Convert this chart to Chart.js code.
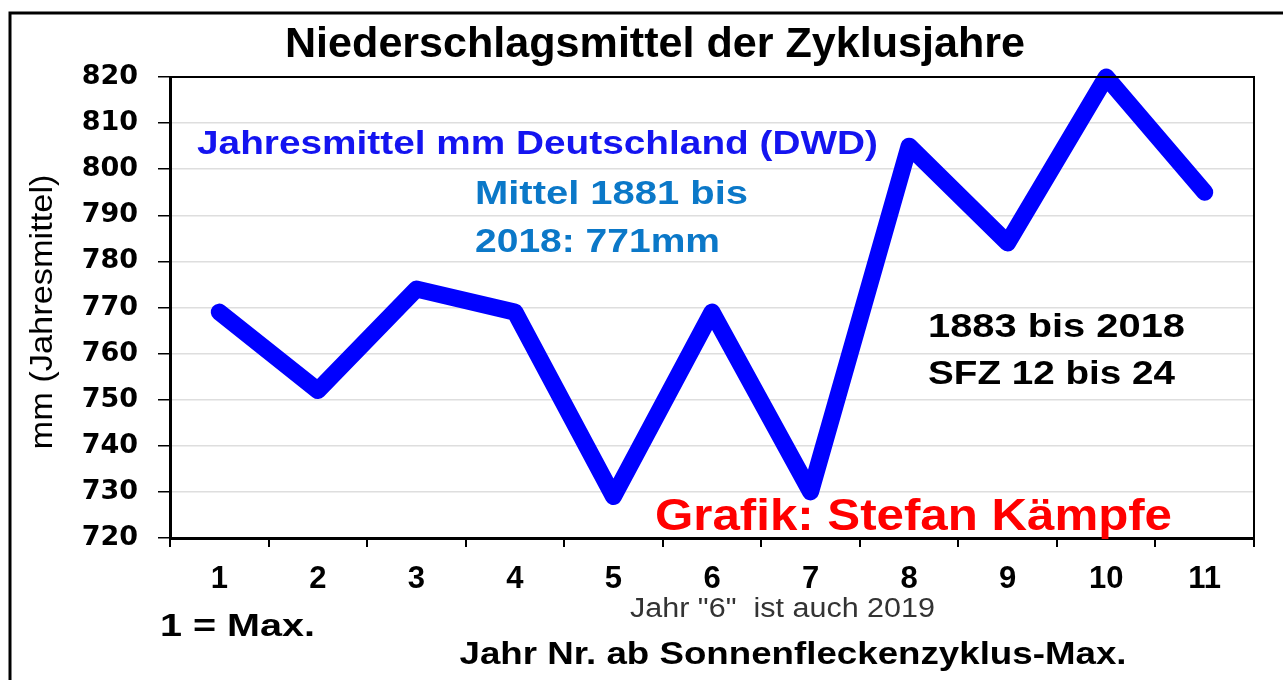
<!DOCTYPE html>
<html>
<head>
<meta charset="utf-8">
<script src="https://cdn.jsdelivr.net/npm/chart.js@4"></script>
<style>
  html, body { margin: 0; padding: 0; background: #fff; }
  #wrap { position: relative; width: 1283px; height: 680px; }
</style>
</head>
<body>
<div id="wrap"><canvas id="grafico"></canvas></div>
<script>
const jahre = ['1', '2', '3', '4', '5', '6', '7', '8', '9', '10', '11'];
const niederschlag = [769, 752, 774, 769, 729, 769, 730, 805, 784, 820, 795];
const yMin = 720;
const yMax = 820;
const yStep = 10;

const schrift = '"Liberation Sans", Arial, sans-serif';

// texte im diagramm, gezeichnet vom plugin (w = breite im original)
const beschriftungen = [
  { text: 'Niederschlagsmittel der Zyklusjahre', x: 655, y: 45, w: 740, font: 'bold 42px', color: '#000', align: 'center' },
  { text: 'Jahresmittel mm Deutschland (DWD)', x: 197, y: 145, w: 681, font: 'bold 33px', color: '#1414f0', align: 'left' },
  { text: 'Mittel 1881 bis', x: 475, y: 195, w: 273, font: 'bold 33px', color: '#0b78c8', align: 'left' },
  { text: '2018: 771mm', x: 475, y: 243, w: 245, font: 'bold 33px', color: '#0b78c8', align: 'left' },
  { text: '1883 bis 2018', x: 928, y: 328, w: 257, font: 'bold 33px', color: '#000', align: 'left' },
  { text: 'SFZ 12 bis 24', x: 928, y: 375, w: 247, font: 'bold 33px', color: '#000', align: 'left' },
  { text: 'Grafik: Stefan Kämpfe', x: 655, y: 518, w: 517, font: 'bold 44px', color: '#ff0000', align: 'left' },
  { text: '1 = Max.', x: 160, y: 627, w: 155, font: 'bold 32px', color: '#000', align: 'left' },
  { text: 'Jahr "6"  ist auch 2019', x: 630, y: 610, w: 305, font: '27px', color: '#333', align: 'left' },
  { text: 'Jahr Nr. ab Sonnenfleckenzyklus-Max.', x: 793, y: 655, w: 667, font: 'bold 32px', color: '#000', align: 'center' }
];

function schreibe(ctx, text, x, y, breite) {
  const gemessen = ctx.measureText(text).width;
  const faktor = breite / gemessen;
  ctx.save();
  ctx.translate(x, y);
  ctx.scale(faktor, 1);
  ctx.fillText(text, 0, 0);
  ctx.restore();
}

const textPlugin = {
  id: 'textPlugin',
  beforeDraw(chart) {
    const ctx = chart.ctx;
    ctx.save();
    ctx.fillStyle = '#fff';
    ctx.fillRect(0, 0, chart.width, chart.height);
    // rahmen aussen
    ctx.strokeStyle = '#000';
    ctx.lineWidth = 3;
    ctx.beginPath();
    ctx.moveTo(10, chart.height);
    ctx.lineTo(10, 13);
    ctx.lineTo(chart.width, 13);
    ctx.stroke();
    ctx.restore();
  },
  afterDraw(chart) {
    const ctx = chart.ctx;
    const area = chart.chartArea;
    ctx.save();
    // rahmen oben und rechts
    ctx.strokeStyle = '#000';
    ctx.lineWidth = 2;
    ctx.beginPath();
    ctx.moveTo(area.left, area.top);
    ctx.lineTo(area.right, area.top);
    ctx.lineTo(area.right, area.bottom);
    ctx.stroke();
    ctx.textBaseline = 'middle';
    beschriftungen.forEach(b => {
      ctx.font = b.font + ' ' + schrift;
      ctx.fillStyle = b.color;
      ctx.textAlign = b.align;
      schreibe(ctx, b.text, b.x, b.y, b.w);
    });
    // y achsentitel
    ctx.translate(43, 312);
    ctx.rotate(-Math.PI / 2);
    ctx.font = '32px ' + schrift;
    ctx.fillStyle = '#000';
    ctx.textAlign = 'center';
    schreibe(ctx, 'mm (Jahresmittel)', 0, 0, 275);
    ctx.restore();
  }
};

new Chart(document.getElementById('grafico').getContext('2d'), {
  type: 'line',
  data: {
    labels: jahre,
    datasets: [{
      label: 'Niederschlag',
      data: niederschlag,
      borderColor: '#0000ff',
      backgroundColor: '#0000ff',
      borderWidth: 17,
      pointRadius: 0,
      borderJoinStyle: 'round',
      borderCapStyle: 'round',
      tension: 0,
      clip: false
    }]
  },
  options: {
    responsive: true,
    maintainAspectRatio: false,
    animation: false,
    layout: { padding: { left: 0, right: 29, top: 77, bottom: 0 } },
    plugins: {
      legend: { display: false },
      title: { display: false },
      tooltip: { enabled: false }
    },
    scales: {
      x: {
        type: 'category',
        offset: true,
        grid: { offset: true, color: 'rgba(0,0,0,0)', tickColor: '#000', tickLength: 9, lineWidth: 2 },
        border: { color: '#000', width: 3 },
        ticks: { color: '#000', padding: 14, font: { family: schrift, size: 31, weight: 'bold' }, maxRotation: 0 },
        afterFit(scale) { scale.height = 142; }
      },
      y: {
        min: yMin,
        max: yMax,
        grid: { color: '#dedede', tickColor: '#000', tickLength: 12, lineWidth: 1.5 },
        border: { color: '#000', width: 3 },
        ticks: { stepSize: yStep, color: '#000', padding: 20, font: { family: '"DejaVu Sans", sans-serif', size: 27, weight: 'bold' } },
        afterFit(scale) { scale.width = 170; }
      }
    }
  },
  plugins: [textPlugin]
});
</script>
</body>
</html>
